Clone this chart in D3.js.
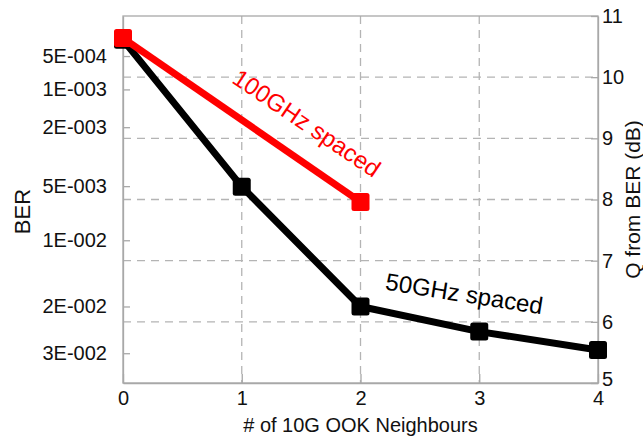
<!DOCTYPE html>
<html>
<head>
<meta charset="utf-8">
<script src="https://cdn.jsdelivr.net/npm/d3@7"></script>
<style>
  html, body { margin: 0; padding: 0; background: #fff; }
  svg text { font-family: "Liberation Sans", Arial, Helvetica, sans-serif; fill: #111; }
</style>
</head>
<body>
<svg id="chart" width="643" height="438"></svg>
<script>
// ---- data ----
const neighbours = [0, 1, 2, 3, 4];
const q50GHz = [10.61, 8.21, 6.25, 5.84, 5.54];      // Q (dB) for 50GHz spaced
const neighbours100 = [0, 2];
const q100GHz = [10.64, 7.96];                        // Q (dB) for 100GHz spaced
const qTicks = [5, 6, 7, 8, 9, 10, 11];
const berTickValues = [5e-4, 1e-3, 2e-3, 5e-3, 1e-2, 2e-2, 3e-2];
const berTickLabels = ["5E-004", "1E-003", "2E-003", "5E-003", "1E-002", "2E-002", "3E-002"];
const xTicks = [0, 1, 2, 3, 4];

// ---- BER -> Q(dB) conversion ----
function erfc(x) {
  const z = Math.abs(x), t = 1 / (1 + 0.5 * z);
  const r = t * Math.exp(-z * z - 1.26551223 + t * (1.00002368 + t * (0.37409196 + t * (0.09678418 +
    t * (-0.18628806 + t * (0.27886807 + t * (-1.13520398 + t * (1.48851587 +
    t * (-0.82215223 + t * 0.17087277)))))))));
  return x >= 0 ? r : 2 - r;
}
function berToQdB(ber) {
  let lo = 0, hi = 10;
  for (let i = 0; i < 100; i++) {
    const mid = (lo + hi) / 2;
    if (0.5 * erfc(mid / Math.SQRT2) > ber) lo = mid; else hi = mid;
  }
  return 20 * Math.log10((lo + hi) / 2);
}
const berTickQ = berTickValues.map(berToQdB);

// ---- layout ----
const svg = d3.select("#chart");
const L = 123, R = 598, T = 16, B = 383;
const x = d3.scaleLinear().domain([0, 4]).range([L, R]);
const y = d3.scaleLinear().domain([5, 11]).range([B, T]);
const axisColor = "#a8a8a8";
const gridColor = "#b4b4b4";

// grid
const grid = svg.append("g");
grid.selectAll("line.h").data([6, 7, 8, 9, 10]).join("line")
  .attr("x1", L).attr("x2", R).attr("y1", d => y(d)).attr("y2", d => y(d))
  .attr("stroke", gridColor).attr("stroke-width", 1.3).attr("stroke-dasharray", "8,6");
grid.selectAll("line.v").data([1, 2, 3]).join("line")
  .attr("x1", d => x(d)).attr("x2", d => x(d)).attr("y1", T).attr("y2", B)
  .attr("stroke", gridColor).attr("stroke-width", 1.3).attr("stroke-dasharray", "8,6");

// frame
svg.append("rect").attr("x", L).attr("y", T).attr("width", R - L).attr("height", B - T)
  .attr("fill", "none").attr("stroke", axisColor).attr("stroke-width", 1.3);

function styleAxis(g, size) {
  g.select(".domain").attr("stroke", axisColor).attr("stroke-width", 1.3);
  g.selectAll(".tick line").attr("stroke", axisColor).attr("stroke-width", 1.3);
  g.selectAll(".tick text").attr("font-size", size).attr("fill", "#111")
    .style("font-family", '"Liberation Sans", Arial, sans-serif');
}

// left axis (BER)
const gl = svg.append("g").attr("transform", `translate(${L},0)`)
  .call(d3.axisLeft(y).tickValues(berTickQ)
    .tickFormat((d, i) => berTickLabels[i]).tickSize(-7).tickSizeOuter(0).tickPadding(16));
styleAxis(gl, 20);

// right axis (Q dB)
const gr = svg.append("g").attr("transform", `translate(${R},0)`)
  .call(d3.axisRight(y).tickValues(qTicks).tickFormat(d3.format("d")).tickSize(-7).tickSizeOuter(0).tickPadding(4));
styleAxis(gr, 20);
gr.selectAll(".tick").filter(d => d === 5).select("text").attr("dy", "0.1em");

// bottom axis
const gb = svg.append("g").attr("transform", `translate(0,${B})`)
  .call(d3.axisBottom(x).tickValues(xTicks).tickFormat(d3.format("d")).tickSize(-9).tickSizeOuter(0).tickPadding(8));
styleAxis(gb, 20);

// axis titles
svg.append("text").attr("x", (L + R) / 2).attr("y", 432).attr("text-anchor", "middle")
  .attr("font-size", 20).text("# of 10G OOK Neighbours");
svg.append("text").attr("transform", `translate(30,${(T + B) / 2 + 12}) rotate(-90)`)
  .attr("text-anchor", "middle").attr("font-size", 22).text("BER");
svg.append("text").attr("transform", `translate(640,${(T + B) / 2}) rotate(-90)`)
  .attr("text-anchor", "middle").attr("font-size", 21).text("Q from BER (dB)");

// series
const line = d3.line().x(d => x(d[0])).y(d => y(d[1]));
const s50 = neighbours.map((n, i) => [n, q50GHz[i]]);
const s100 = neighbours100.map((n, i) => [n, q100GHz[i]]);
const msz = 18;

svg.append("path").datum(s50).attr("d", line).attr("fill", "none")
  .attr("stroke", "#000").attr("stroke-width", 7).attr("stroke-linejoin", "round");
svg.selectAll("rect.m50").data(s50).join("rect")
  .attr("x", d => x(d[0]) - msz / 2).attr("y", d => y(d[1]) - msz / 2)
  .attr("width", msz).attr("height", msz).attr("rx", 2.5).attr("fill", "#000");

svg.append("path").datum(s100).attr("d", line).attr("fill", "none")
  .attr("stroke", "#ff0000").attr("stroke-width", 7).attr("stroke-linejoin", "round");
svg.selectAll("rect.m100").data(s100).join("rect")
  .attr("x", d => x(d[0]) - msz / 2).attr("y", d => y(d[1]) - msz / 2)
  .attr("width", msz).attr("height", msz).attr("rx", 2.5).attr("fill", "#ff0000");

// annotations
svg.append("text").attr("transform", "translate(302,130) rotate(34)")
  .attr("text-anchor", "middle").attr("font-size", 24).style("fill", "#ff0000").text("100GHz spaced");
svg.append("text").attr("transform", "translate(463,302) rotate(9)")
  .attr("text-anchor", "middle").attr("font-size", 24).style("fill", "#000").text("50GHz spaced");
</script>
</body>
</html>
